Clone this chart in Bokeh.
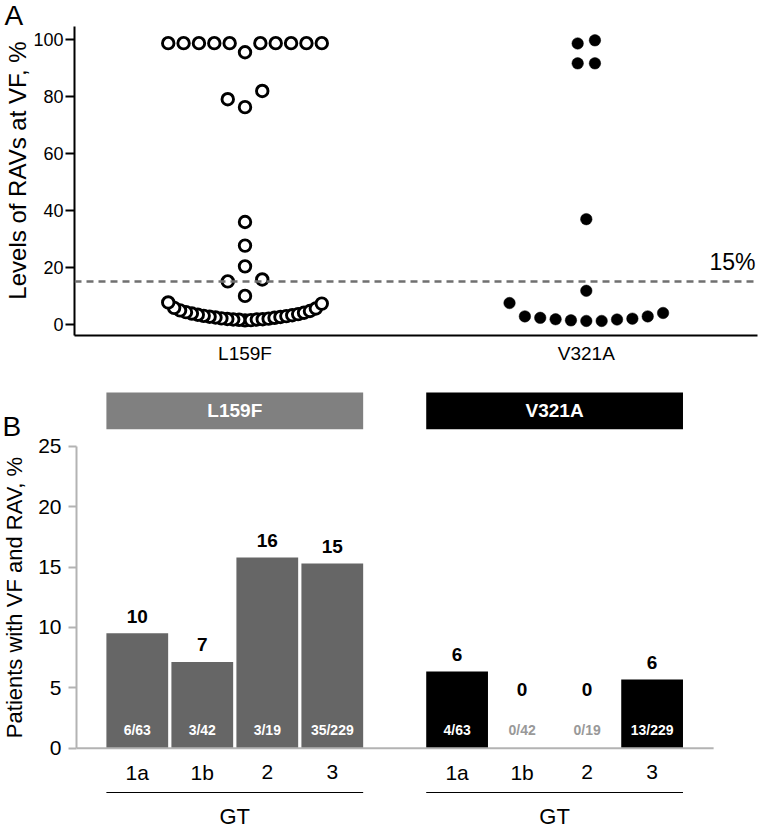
import math
import numpy as np
from bokeh.plotting import figure
from bokeh.layouts import column, row
from bokeh.models import Span, FixedTicker, ColumnDataSource
from bokeh.embed import file_html
from bokeh.resources import INLINE
from bokeh.core.properties import value

# ---------------- data ----------------
# Panel A: levels (%) of RAVs at virologic failure, listed in plotting order
mutations = ["L159F", "V321A"]
l159f_levels = [
    95.6, 98.8, 98.8, 98.8, 98.8, 98.8, 98.8, 98.8, 98.8, 98.8, 98.8,
    76.3, 79.1, 82.0,
    35.9, 27.6, 20.3,
    9.9, 15.0, 15.7,
    1.3, 1.5, 1.4, 1.6, 1.6, 1.8, 1.7, 2.0, 1.9, 2.3, 2.2, 2.6, 2.5, 2.9,
    2.8, 3.3, 3.1, 3.7, 3.5, 4.2, 4.0, 4.8, 4.6, 5.7, 5.5, 7.6, 7.2,
]
v321a_levels = [
    98.7, 99.8,
    91.7, 91.7,
    36.9, 11.7,
    1.1, 1.3, 1.1, 1.7, 1.6, 2.2, 1.9, 2.7, 2.7, 7.4, 3.9,
]
threshold = 15
y_ticks_a = [0, 20, 40, 60, 80, 100]
y_title_a = "Levels of RAVs at VF, %"

# Panel B: patients with VF and RAV by genotype
genotypes = ["1a", "1b", "2", "3"]
l159f_n = [6, 3, 3, 35]
v321a_n = [4, 0, 0, 13]
gt_totals = [63, 42, 19, 229]
y_ticks_b = [0, 5, 10, 15, 20, 25]
y_title_b = "Patients with VF and RAV, %"
group_title = "GT"

# ---------------- layout / style ----------------
FONT = "Liberation Sans"
STRIP = 30            # narrow left strip holding panel letter and y title
W = 759 - STRIP
HA, HB = 366, 462
A_LEFT, A_RIGHT, A_BOTTOM = 42, 2, 29
B_LEFT = 46

A_X = (-0.4996, 1.5016)
A_Y = (-4.02, 113.81)          # frame spans full height above the x axis
A_AXIS_TOP = 104.72            # visible extent of the y axis line
A_PXX = (W - A_LEFT - A_RIGHT) / (A_X[1] - A_X[0])
A_PXY = (HA - A_BOTTOM) / (A_Y[1] - A_Y[0])

B_X = (-0.935, 9.572)
B_Y = (-6.65, 31.6)
B_PXX = (W - B_LEFT) / (B_X[1] - B_X[0])
B_PXY = HB / (B_Y[1] - B_Y[0])
GROUP_GAP = 0.92
BAR_W = 0.95
HEAD_Y = (26.4, 29.45)


def swarm_offsets(levels, spacing_px=17.3, max_width_px=154, tol=6.8):
    """Prism-like dot layout: close values share a row, spread around the centre."""
    vals = np.asarray(levels, float)
    order = np.argsort(vals, kind="stable")
    rows, cur = [], [order[0]]
    for i in order[1:]:
        if vals[i] - vals[cur[0]] <= tol:
            cur.append(i)
        else:
            rows.append(cur)
            cur = [i]
    rows.append(cur)
    off = np.zeros(len(vals))
    for r in rows:
        r = sorted(r)
        n = len(r)
        step = spacing_px if n < 2 else min(spacing_px, max_width_px / (n - 1))
        if n % 2:
            slots = [0] + [s for k in range(1, n // 2 + 1) for s in (-k, k)]
        else:
            slots = [s for k in range(n // 2) for s in (-(k + 0.5), k + 0.5)]
        for idx, s in zip(r, slots):
            off[idx] = s * step
    return off


def strip_figure(h, bottom=0):
    s = figure(width=STRIP, height=h, x_range=(0, STRIP), y_range=(bottom, h),
               output_backend="svg", toolbar_location=None,
               x_axis_location=None, y_axis_location=None,
               min_border_left=0, min_border_right=0,
               min_border_top=0, min_border_bottom=bottom)
    s.outline_line_color = None
    s.xgrid.visible = False
    s.ygrid.visible = False
    return s


# ---------------- panel A ----------------
pA = figure(width=W, height=HA, x_range=A_X, y_range=A_Y,
            output_backend="svg", toolbar_location=None,
            min_border_left=A_LEFT, min_border_right=A_RIGHT,
            min_border_top=0, min_border_bottom=A_BOTTOM)
pA.outline_line_color = None
pA.xgrid.visible = False
pA.ygrid.visible = False

pA.add_layout(Span(location=threshold, dimension="width", line_color="#707070",
                   line_width=2.5, line_dash="7 5"))

for ci, (levels, filled) in enumerate([(l159f_levels, False), (v321a_levels, True)]):
    offs = swarm_offsets(levels)
    src = ColumnDataSource(dict(x=ci + offs / A_PXX, y=levels))
    if filled:
        pA.scatter("x", "y", source=src, marker="circle", size=11.5,
                   fill_color="black", line_color="black", line_width=0.5)
    else:
        pA.scatter("x", "y", source=src, marker="circle", size=11.5,
                   fill_color="white", line_color="black", line_width=2.9)

pA.text(x=[A_X[1] - 2 / A_PXX], y=[threshold + 19.5 / A_PXY], text=[f"{threshold}%"],
        text_font=value(FONT), text_font_size="23px", text_color="black",
        text_align="right", text_baseline="middle")

ya = pA.yaxis[0]
ya.ticker = FixedTicker(ticks=y_ticks_a)
ya.bounds = (A_Y[0], A_AXIS_TOP)
ya.axis_line_width = 2
ya.axis_line_color = "black"
ya.major_tick_line_width = 2
ya.major_tick_out = 9
ya.major_tick_in = 0
ya.minor_tick_line_color = None
ya.major_label_text_font = FONT
ya.major_label_text_font_size = "18px"
ya.major_label_text_color = "black"
ya.major_label_standoff = 2

xa = pA.xaxis[0]
xa.ticker = FixedTicker(ticks=[0, 1])
xa.major_label_overrides = {0: mutations[0], 1: mutations[1]}
xa.axis_line_width = 2
xa.axis_line_color = "black"
xa.major_tick_line_color = None
xa.major_tick_out = 0
xa.major_tick_in = 0
xa.minor_tick_line_color = None
xa.major_label_text_font = FONT
xa.major_label_text_font_size = "19px"
xa.major_label_text_color = "black"
xa.major_label_standoff = 7

sA = strip_figure(HA, bottom=A_BOTTOM)
sA.text(x=[4], y=[HA - 15], text=["A"], text_font=value(FONT), text_font_size="28px",
        text_color="black", text_align="left", text_baseline="middle")
sA.text(x=[17], y=[HA - 171], text=[y_title_a], angle=math.pi / 2,
        text_font=value(FONT), text_font_size="24px", text_color="black",
        text_align="center", text_baseline="middle")

# ---------------- panel B ----------------
pB = figure(width=W, height=HB, x_range=B_X, y_range=B_Y,
            output_backend="svg", toolbar_location=None, x_axis_location=None,
            min_border_left=B_LEFT, min_border_right=0,
            min_border_top=0, min_border_bottom=0)
pB.outline_line_color = None
pB.xgrid.visible = False
pB.ygrid.visible = False

groups = [
    (mutations[0], l159f_n, "#666666", "#808080"),
    (mutations[1], v321a_n, "#000000", "#000000"),
]
last_pos = 0
for gi, (name, nums, bar_color, head_color) in enumerate(groups):
    pos = [gi * (len(genotypes) + GROUP_GAP) + j for j in range(len(genotypes))]
    pct = [100.0 * n / d for n, d in zip(nums, gt_totals)]
    src = ColumnDataSource(dict(
        x=pos, top=pct,
        lab=[f"{round(v):d}" for v in pct],
        lab_y=[max(v, 3.45) + 17 / B_PXY for v in pct],
        frac=[f"{n}/{d}" for n, d in zip(nums, gt_totals)],
        frac_color=["white" if n > 0 else "#999999" for n in nums],
        gt=genotypes,
    ))
    pB.vbar(x="x", top="top", bottom=0, width=BAR_W, source=src,
            fill_color=bar_color, line_color=None)
    pB.text(x="x", y="lab_y", text="lab", source=src, text_font=value(FONT),
            text_font_size="19px", text_font_style="bold", text_color="black",
            text_align="center", text_baseline="middle")
    pB.text(x="x", y=18 / B_PXY, text="frac", source=src, text_font=value(FONT),
            text_font_size="14px", text_font_style="bold", text_color="frac_color",
            text_align="center", text_baseline="middle")
    pB.text(x="x", y=-24.3 / B_PXY, text="gt", source=src, text_font=value(FONT),
            text_font_size="21px", text_color="black",
            text_align="center", text_baseline="middle")
    left, right = pos[0] - BAR_W / 2, pos[-1] + BAR_W / 2
    # header box
    pB.quad(left=[left], right=[right], bottom=[HEAD_Y[0]], top=[HEAD_Y[1]],
            fill_color=head_color, line_color=None)
    pB.text(x=[(left + right) / 2], y=[sum(HEAD_Y) / 2], text=[name],
            text_font=value(FONT), text_font_size="19px", text_font_style="bold",
            text_color="white", text_align="center", text_baseline="middle")
    # group underline and title
    pB.segment(x0=[left], x1=[right], y0=[-44.3 / B_PXY], y1=[-44.3 / B_PXY],
               line_color="black", line_width=1.2)
    pB.text(x=[(left + right) / 2], y=[-68 / B_PXY], text=[group_title],
            text_font=value(FONT), text_font_size="22px", text_color="black",
            text_align="center", text_baseline="middle")
    last_pos = pos[-1]

# baseline
pB.segment(x0=[B_X[0]], x1=[last_pos + 0.946], y0=[0], y1=[0],
           line_color="#b3b3b3", line_width=2)

yb = pB.yaxis[0]
yb.ticker = FixedTicker(ticks=y_ticks_b)
yb.bounds = (y_ticks_b[0], y_ticks_b[-1])
yb.axis_line_width = 2
yb.axis_line_color = "#b3b3b3"
yb.major_tick_line_color = "#b3b3b3"
yb.major_tick_line_width = 2
yb.major_tick_out = 8
yb.major_tick_in = 0
yb.minor_tick_line_color = None
yb.major_label_text_font = FONT
yb.major_label_text_font_size = "21px"
yb.major_label_text_color = "black"
yb.major_label_standoff = 7

sB = strip_figure(HB)
sB.text(x=[2], y=[HB - 60], text=["B"], text_font=value(FONT), text_font_size="28px",
        text_color="black", text_align="left", text_baseline="middle")
sB.text(x=[14], y=[HB - 231], text=[y_title_b], angle=math.pi / 2,
        text_font=value(FONT), text_font_size="22px", text_color="black",
        text_align="center", text_baseline="middle")

layout = column(row(sA, pA, spacing=0), row(sB, pB, spacing=0), spacing=0)
open("out.html", "w").write(file_html(layout, INLINE))
